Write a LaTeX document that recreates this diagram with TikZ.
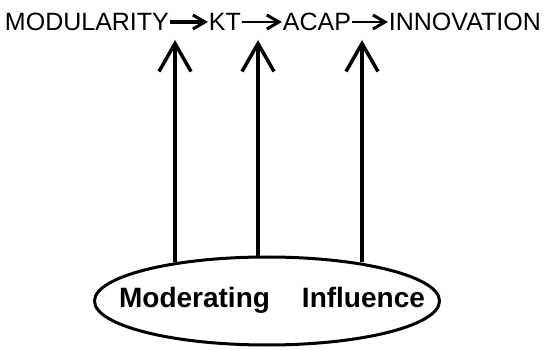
\documentclass[tikz,border=0pt]{standalone}
\usepackage{fontspec}
\setmainfont{Liberation Sans}
\usetikzlibrary{positioning, arrows.meta, shapes.geometric}

\tikzset{
    concept/.style={inner sep=0pt, outer sep=1pt, font=\fontsize{25}{28}\selectfont},
    flow/.style={-{Straight Barb[length=12pt, width=14pt, line width=3pt]}, line width=2.8pt},
    moder/.style={-{Straight Barb[length=28pt, width=32pt, line width=3.5pt]}, line width=3.2pt}
}

\begin{document}
\begin{tikzpicture}[x=1pt, y=1pt]
    \useasboundingbox (0, 0) rectangle (547, -350);

    \node (mod) [concept, anchor=west] at (4, -22) {MODULARITY};
    \node (kt) [concept, right=38pt of mod] {KT};
    \node (acap) [concept, right=40pt of kt] {ACAP};
    \node (inno) [concept, right=36pt of acap] {INNOVATION};

    \node (infl) [draw, ellipse, line width=3pt, minimum width=345pt, minimum height=88pt] at (267, -301) {};
    \node (label) [font=\fontsize{28}{30}\selectfont\bfseries] at (272, -300) {Moderating\hspace{32pt}Influence};

    \draw [flow, line width=3.8pt] (mod.east) -- (kt.west);
    \draw [flow] (kt.east) -- (acap.west);
    \draw [flow] (acap.east) -- (inno.west);

    \coordinate (t1) at (175, -40);
    \coordinate (t2) at (258, -40);
    \coordinate (t3) at (362, -40);
    \coordinate (b1) at (175, -262);
    \coordinate (b2) at (258, -257);
    \coordinate (b3) at (362, -262);

    \draw [moder] (b1) -- (t1);
    \draw [moder] (b2) -- (t2);
    \draw [moder] (b3) -- (t3);
\end{tikzpicture}
\end{document}
